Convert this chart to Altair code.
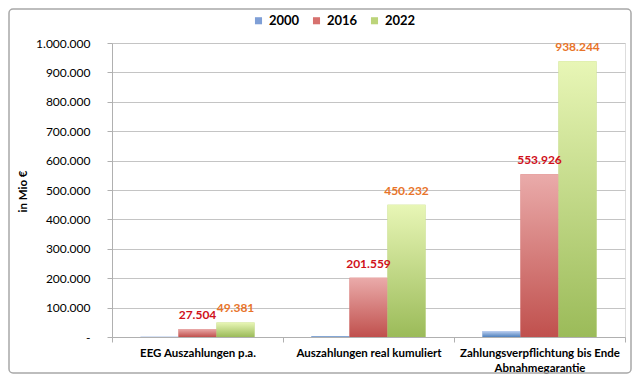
import altair as alt
import pandas as pd

categories = ["EEG Auszahlungen p.a.", "Auszahlungen real kumuliert",
              "Zahlungsverpflichtung bis Ende Abnahmegarantie"]
years = ["2000", "2016", "2022"]
v2000 = [900, 3500, 20000]
v2016 = [27504, 201559, 553926]
v2022 = [49381, 450232, 938244]

rows = []
for i, c in enumerate(categories):
    rows.append({"cat": c, "year": "2000", "v": v2000[i]})
    rows.append({"cat": c, "year": "2016", "v": v2016[i]})
    rows.append({"cat": c, "year": "2022", "v": v2022[i]})
df = pd.DataFrame(rows)

FONT = "Lato"
legend_colors = ["#7f9fd6", "#d7716e", "#bcd47a"]
grads = {
    "2000": ("#bccff0", "#4f81bd"),
    "2016": ("#eaabaa", "#c0504d"),
    "2022": ("#e8f6b6", "#9bbb59"),
}
label_colors = {"2016": "#d0101a", "2022": "#e8742a"}

x_enc = alt.X("cat:N", sort=categories,
              scale=alt.Scale(paddingInner=0, paddingOuter=0),
              axis=alt.Axis(title=None, labelAngle=0, labelFont=FONT, labelFontWeight="bold",
                            labelFontSize=11.5, labelColor="#000", labelPadding=5,
                            labelExpr="datum.label == 'Zahlungsverpflichtung bis Ende Abnahmegarantie' ? ['Zahlungsverpflichtung bis Ende', 'Abnahmegarantie'] : datum.label",
                            tickBand="extent", tickSize=5, tickColor="#b0b0b0",
                            domainColor="#b0b0b0", grid=False, labelLineHeight=15))
xo_enc = alt.XOffset("year:N", sort=years,
                     scale=alt.Scale(domain=years, paddingOuter=0.75, paddingInner=0))
y_enc = alt.Y("v:Q", scale=alt.Scale(domain=[0, 1000000], nice=False),
              axis=alt.Axis(title="in Mio €", titleFont=FONT, titleFontSize=11.5,
                            titleFontWeight="bold", titleColor="#000",
                            titleX=-89, titleY=148, titleAngle=270,
                            titleAlign="center", titleBaseline="middle",
                            values=list(range(0, 1000001, 100000)),
                            labelExpr="datum.value == 0 ? '-' : replace(format(datum.value, ','), regexp(',', 'g'), '.')",
                            labelFont=FONT, labelFontSize=12, labelColor="#000",
                            labelPadding=17, tickSize=5, tickColor="#b0b0b0",
                            domainColor="#b0b0b0", gridColor="#c4c4c4"))

base = alt.Chart(df)

legend_layer = base.mark_bar().encode(
    x=x_enc, xOffset=xo_enc, y=y_enc,
    color=alt.Color("year:N", sort=years,
                    scale=alt.Scale(domain=years, range=legend_colors),
                    legend=alt.Legend(title=None, orient="none", direction="horizontal",
                                      legendX=140, legendY=-29, symbolType="square",
                                      symbolSize=50, symbolStrokeWidth=0,
                                      labelFont=FONT, labelFontWeight="bold",
                                      labelFontSize=13, labelColor="#000",
                                      columnPadding=10, labelOffset=4)),
)

layers = [legend_layer]
for yr in years:
    top, bot = grads[yr]
    layers.append(
        base.transform_filter(f"datum.year == '{yr}'").mark_bar(
            color=alt.Gradient(gradient="linear",
                               stops=[alt.GradientStop(color=top, offset=0),
                                      alt.GradientStop(color=bot, offset=1)],
                               x1=0, x2=0, y1=0, y2=1)
        ).encode(x=x_enc, xOffset=xo_enc, y=y_enc)
    )

for yr in ["2016", "2022"]:
    layers.append(
        base.transform_filter(f"datum.year == '{yr}'")
        .transform_calculate(lbl="replace(format(datum.v, ','), regexp(',', 'g'), '.')")
        .mark_text(font=FONT, fontWeight="bold", fontSize=12, dy=-7, baseline="bottom",
                   color=label_colors[yr])
        .encode(x=x_enc, xOffset=xo_enc, y=y_enc, text="lbl:N")
    )

border = alt.Chart(pd.DataFrame({"a": [0]})).mark_rect(
    fill=None, stroke="#a8a8a8", strokeWidth=1.5, cornerRadius=4
).encode(x=alt.value(-103), x2=alt.value(519), y=alt.value(-34), y2=alt.value(330))

chart = alt.layer(border, *layers).properties(
    width=513, height=294,
    autosize=alt.AutoSizeParams(type="none"),
    padding={"left": 104, "top": 35, "right": 7, "bottom": 37},
).configure_view(stroke=None).configure(background="white")

chart.save("out.html", embed_options={"renderer": "svg", "actions": False})
